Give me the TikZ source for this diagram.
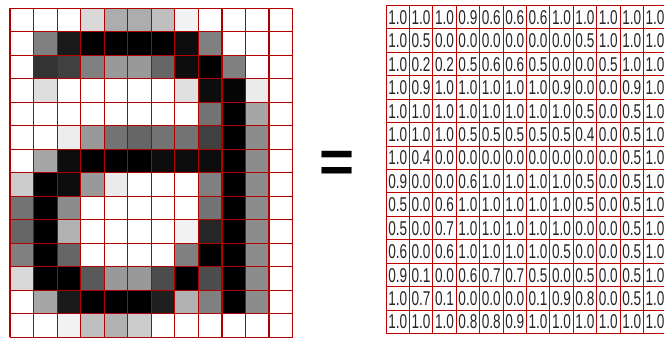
\documentclass[tikz,border=0pt]{standalone}
\usepackage{fontspec}
\setmainfont{Liberation Sans}
\begin{document}
\begin{tikzpicture}[x=1pt,y=-1pt,
  leftline/.style={draw=red!70!black, line width=1.2pt},
  rightline/.style={draw=red!75!black, line width=1.0pt},
  numtext/.style={inner sep=0pt, text=black!85, font=\fontsize{20}{20}\selectfont},
  eqsign/.style={inner sep=0pt, font=\fontsize{60}{60}\selectfont\bfseries}]
\useasboundingbox (0,0) rectangle (664,340);
\clip (0,0) rectangle (664,340);
\fill[white] (0,0) rectangle (664,340);
% left pixel image (percent black)
\foreach \row [count=\r from 0] in {
 {0,0,0,15,32,32,25,5,0,0,0,0},
 {0,50,90,100,100,100,100,95,50,0,0,0},
 {0,80,75,50,40,40,60,95,100,50,0,0},
 {0,13,0,0,0,0,0,12,95,98,8,0},
 {0,0,0,0,0,0,0,0,55,100,35,0},
 {0,0,7,40,55,60,55,55,75,100,45,0},
 {0,35,95,100,100,100,95,95,95,100,45,0},
 {20,100,95,40,8,0,0,0,50,100,45,0},
 {55,100,45,0,0,0,0,0,55,100,45,0},
 {60,100,30,0,0,0,0,5,85,100,45,0},
 {50,100,60,0,0,0,0,50,100,100,45,0},
 {15,100,100,65,40,40,70,100,70,100,45,0},
 {0,35,90,100,100,100,88,30,50,100,45,0},
 {0,0,5,25,30,20,0,0,0,0,0,0}} {
  \foreach \v [count=\c from 0] in \row {
    \fill[black!\v!white] (10+\c*23.55, 8.3+\r*23.5) rectangle ++(23.55,23.5);
  }
}
\foreach \i in {0,...,12} \draw[leftline] (10+\i*23.55,8.3) -- (10+\i*23.55,337.3);
\foreach \j in {0,...,14} \draw[leftline] (10,8.3+\j*23.5) -- (292.6,8.3+\j*23.5);
% equals sign
\node[eqsign] (eq) at (337.5,167) {=};
% right matrix
\foreach \row [count=\r from 0] in {
 {1.0,1.0,1.0,0.9,0.6,0.6,0.6,1.0,1.0,1.0,1.0,1.0},
 {1.0,0.5,0.0,0.0,0.0,0.0,0.0,0.0,0.5,1.0,1.0,1.0},
 {1.0,0.2,0.2,0.5,0.6,0.6,0.5,0.0,0.0,0.5,1.0,1.0},
 {1.0,0.9,1.0,1.0,1.0,1.0,1.0,0.9,0.0,0.0,0.9,1.0},
 {1.0,1.0,1.0,1.0,1.0,1.0,1.0,1.0,0.5,0.0,0.5,1.0},
 {1.0,1.0,1.0,0.5,0.5,0.5,0.5,0.5,0.4,0.0,0.5,1.0},
 {1.0,0.4,0.0,0.0,0.0,0.0,0.0,0.0,0.0,0.0,0.5,1.0},
 {0.9,0.0,0.0,0.6,1.0,1.0,1.0,1.0,0.5,0.0,0.5,1.0},
 {0.5,0.0,0.6,1.0,1.0,1.0,1.0,1.0,0.5,0.0,0.5,1.0},
 {0.5,0.0,0.7,1.0,1.0,1.0,1.0,1.0,0.0,0.0,0.5,1.0},
 {0.6,0.0,0.6,1.0,1.0,1.0,1.0,0.5,0.0,0.0,0.5,1.0},
 {0.9,0.1,0.0,0.6,0.7,0.7,0.5,0.0,0.5,0.0,0.5,1.0},
 {1.0,0.7,0.1,0.0,0.0,0.0,0.1,0.9,0.8,0.0,0.5,1.0},
 {1.0,1.0,1.0,0.8,0.8,0.9,1.0,1.0,1.0,1.0,1.0,1.0}} {
  \foreach \t [count=\c from 0] in \row {
    \node[numtext] (n-\r-\c) at (386+\c*23.4+11.7, 5.5+\r*23.43+11.9) {\scalebox{0.68}[1]{\t}};
  }
}
\foreach \i in {0,...,12} \draw[rightline] (386+\i*23.4,5.5) -- (386+\i*23.4,333.5);
\foreach \j in {0,...,14} \draw[rightline] (386,5.5+\j*23.43) -- (666.8,5.5+\j*23.43);
\end{tikzpicture}
\end{document}
